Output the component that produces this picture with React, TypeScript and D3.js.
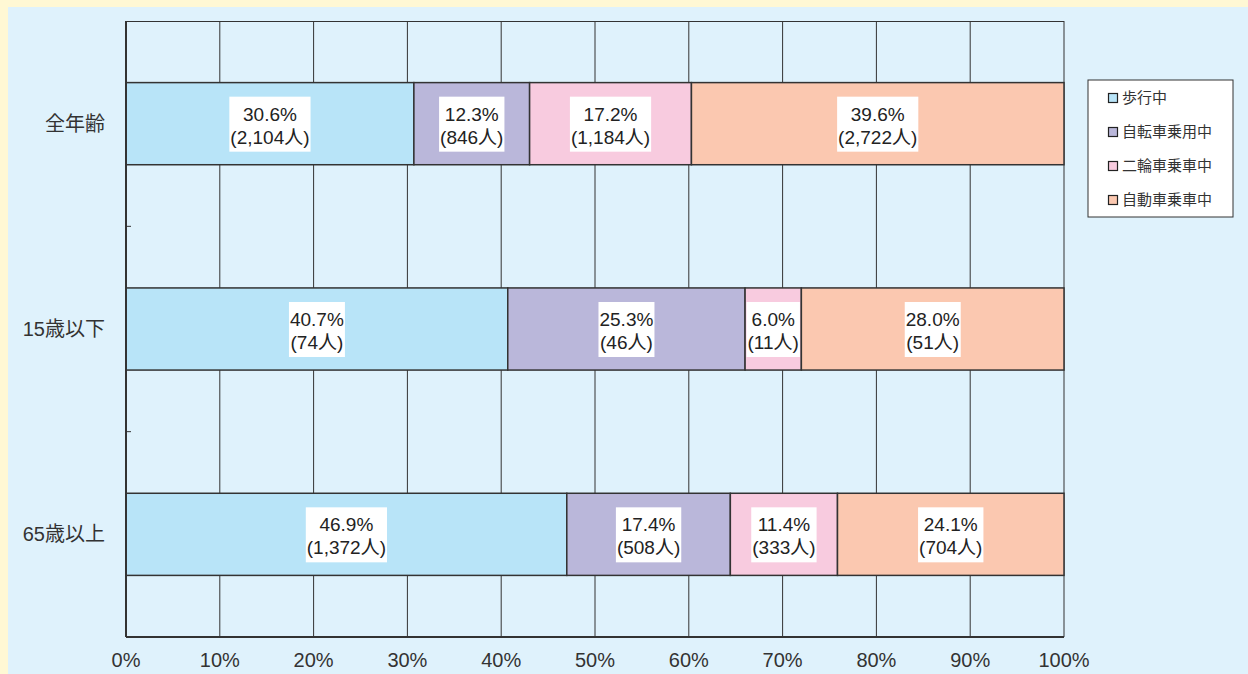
import React, {useEffect, useRef} from 'react'
import * as d3 from 'd3'

const width = 1248
const height = 674
const margin = {top: 21, right: 184, bottom: 37, left: 126}
const innerWidth = width - margin.left - margin.right
const innerHeight = height - margin.top - margin.bottom

const categories = ['全年齢', '15歳以下', '65歳以上']
const seriesNames = ['歩行中', '自転車乗用中', '二輪車乗車中', '自動車乗車中']
const colors = ['#b8e4f8', '#bab7da', '#f8cbdf', '#fbc8b0']

// percent values per series (row order = categories)
const walkPct = [30.6, 40.7, 46.9]
const bikePct = [12.3, 25.3, 17.4]
const motoPct = [17.2, 6.0, 11.4]
const carPct = [39.6, 28.0, 24.1]

// persons per series
const walkN = [2104, 74, 1372]
const bikeN = [846, 46, 508]
const motoN = [1184, 11, 333]
const carN = [2722, 51, 704]

const xTicks = [0, 0.1, 0.2, 0.3, 0.4, 0.5, 0.6, 0.7, 0.8, 0.9, 1]

const font = '"Liberation Sans", Arial, "Noto Sans CJK JP", sans-serif'

const App = () => {
  const chartRef = useRef<SVGSVGElement>(null)

  useEffect(() => {
    drawChart()
  }, [])

  const drawChart = () => {
    const svg = d3.select(chartRef.current)
    svg.selectAll('*').remove()

    const pcts = [walkPct, bikePct, motoPct, carPct]
    const counts = [walkN, bikeN, motoN, carN]
    const rows = categories.map((c, i) => {
      const r: any = {cat: c, idx: i}
      seriesNames.forEach((s, j) => (r[s] = pcts[j][i]))
      return r
    })

    const stacked = d3
      .stack()
      .keys(seriesNames)
      .offset(d3.stackOffsetExpand)(rows)

    // background
    svg.append('rect').attr('width', width).attr('height', height).attr('fill', '#fff8d4')
    svg
      .append('rect')
      .attr('x', 8)
      .attr('y', 7)
      .attr('width', width - 8)
      .attr('height', height - 7)
      .attr('fill', '#dff2fc')

    const x = d3.scaleLinear().domain([0, 1]).range([0, innerWidth])
    const y = d3
      .scaleBand()
      .domain(categories)
      .range([0, innerHeight])
      .paddingInner(0.6)
      .paddingOuter(0.3)
    const band = innerHeight / categories.length

    const g = svg
      .append('g')
      .attr('transform', `translate(${margin.left},${margin.top})`)

    // vertical grid
    g.selectAll('line.grid')
      .data(xTicks)
      .enter()
      .append('line')
      .attr('x1', d => x(d))
      .attr('x2', d => x(d))
      .attr('y1', 0)
      .attr('y2', innerHeight)
      .attr('stroke', '#333')
      .attr('stroke-width', 1)

    g.append('line')
      .attr('x1', 0)
      .attr('x2', innerWidth)
      .attr('y1', 0.5)
      .attr('y2', 0.5)
      .attr('stroke', '#333')

    // bars
    stacked.forEach((layer, j) => {
      g.selectAll(`rect.s${j}`)
        .data(layer)
        .enter()
        .append('rect')
        .attr('x', d => x(d[0]))
        .attr('y', d => y((d.data as any).cat)!)
        .attr('width', d => x(d[1]) - x(d[0]))
        .attr('height', y.bandwidth())
        .attr('fill', colors[j])
        .attr('stroke', '#333')
        .attr('stroke-width', 1.5)
    })

    // labels
    stacked.forEach((layer, j) => {
      layer.forEach((d, i) => {
        const cx = (x(d[0]) + x(d[1])) / 2
        const cy = y(categories[i])! + y.bandwidth() / 2
        const lg = g.append('g')
        const box = lg.append('rect').attr('fill', '#fff')
        const t = lg
          .append('text')
          .attr('text-anchor', 'middle')
          .style('font-family', font)
          .style('font-size', '19px')
          .attr('fill', '#222')
        t.append('tspan')
          .attr('x', cx)
          .attr('y', cy - 3)
          .text(pcts[j][i].toFixed(1) + '%')
        t.append('tspan')
          .attr('x', cx)
          .attr('y', cy + 20)
          .text(`(${d3.format(',')(counts[j][i])}人)`)
        const bb = (t.node() as SVGTextElement).getBBox()
        box
          .attr('x', bb.x - 1)
          .attr('y', cy - 27)
          .attr('width', bb.width + 2)
          .attr('height', 55)
      })
    })

    // axes lines
    g.append('line')
      .attr('x1', 0)
      .attr('x2', 0)
      .attr('y1', 0)
      .attr('y2', innerHeight)
      .attr('stroke', '#333')
      .attr('stroke-width', 2)
    g.append('line')
      .attr('x1', 0)
      .attr('x2', innerWidth)
      .attr('y1', innerHeight)
      .attr('y2', innerHeight)
      .attr('stroke', '#333')
      .attr('stroke-width', 2)

    // inward ticks at band boundaries
    g.selectAll('line.ytick')
      .data(categories.slice(1))
      .enter()
      .append('line')
      .attr('x1', 0)
      .attr('x2', 5)
      .attr('y1', (_, i) => band * (i + 1))
      .attr('y2', (_, i) => band * (i + 1))
      .attr('stroke', '#333')

    // x tick labels
    g.selectAll('text.xt')
      .data(xTicks)
      .enter()
      .append('text')
      .attr('x', d => x(d))
      .attr('y', innerHeight + 30)
      .attr('text-anchor', 'middle')
      .style('font-family', font)
      .style('font-size', '20px')
      .attr('fill', '#333')
      .text(d => d3.format('.0%')(d))

    // category labels
    g.selectAll('text.cat')
      .data(categories)
      .enter()
      .append('text')
      .attr('x', -21)
      .attr('y', d => y(d)! + y.bandwidth() / 2)
      .attr('dy', '0.35em')
      .attr('text-anchor', 'end')
      .style('font-family', font)
      .style('font-size', '20px')
      .attr('fill', '#333')
      .text(d => d)

    // legend
    const lg = svg.append('g').attr('transform', 'translate(1088,80)')
    lg.append('rect')
      .attr('width', 145)
      .attr('height', 137)
      .attr('fill', '#fff')
      .attr('stroke', '#333')
    seriesNames.forEach((s, j) => {
      const row = lg.append('g').attr('transform', `translate(20,${18 + j * 34})`)
      row.append('rect')
        .attr('x', 0.5)
        .attr('y', -4.5)
        .attr('width', 9)
        .attr('height', 9)
        .attr('fill', colors[j])
        .attr('stroke', '#222')
        .attr('stroke-width', 1.2)
      row.append('text')
        .attr('x', 14)
        .attr('y', 0)
        .attr('dy', '0.35em')
        .style('font-family', font)
        .style('font-size', '15px')
        .attr('fill', '#333')
        .text(s)
    })
  }

  return (
    <svg
      ref={chartRef}
      width={width}
      height={height}
      style={{position: 'absolute', left: 0, top: 0}}
    ></svg>
  )
}

export default App
